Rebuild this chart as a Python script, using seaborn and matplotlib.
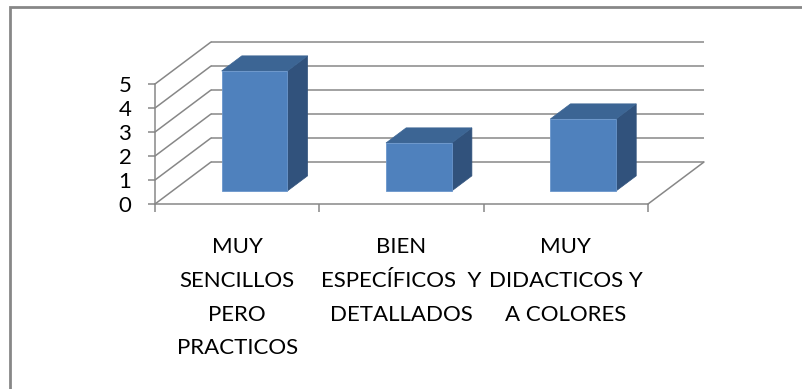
import matplotlib
matplotlib.use("Agg")
import matplotlib.pyplot as plt
import pandas as pd
import seaborn as sns
from matplotlib.patches import Polygon, Rectangle
from matplotlib.ticker import FixedLocator

# Data
categories = [
    "MUY\nSENCILLOS\nPERO\nPRACTICOS",
    "BIEN\nESPECÍFICOS  Y\nDETALLADOS",
    "MUY\nDIDACTICOS Y\nA COLORES",
]
values = [5, 2, 3]
y_ticks = [0, 1, 2, 3, 4, 5]

# Colours
FRONT = "#4F81BD"
SIDE = "#31527C"
TOP = "#3C6594"
EDGE = "#6A96CC"
GRID = "#878787"

sns.set_theme(style="white")
plt.rcParams["font.family"] = ["Lato", "DejaVu Sans"]

W, H = 803, 389
fig = plt.figure(figsize=(W / 100, H / 100), dpi=100)
fig.patch.set_facecolor("white")

# Front plane of the 3-D box (floor front edge / value axis)
ax = fig.add_axes([155 / W, (H - 204) / H, 493 / W, 120 / H])
ax.set_facecolor("none")

df = pd.DataFrame({"cat": categories, "val": values})
sns.barplot(data=df, x="cat", y="val", color=FRONT, saturation=1,
            width=0.4, ax=ax, zorder=3)

n = len(categories)
ax.set_xlim(-0.5, n - 0.5)
ax.set_ylim(0, max(y_ticks))

# Oblique depth vector of the box (in data units) and bar depth slots
DX = 56 / (493 / n)
DY = 42 / (120 / max(y_ticks))
f0, f1 = 0.31, 0.67

lw = 1.1
# Back wall and side wall gridlines
for v in y_ticks:
    ax.plot([-0.5 + DX, n - 0.5 + DX], [v + DY, v + DY], color=GRID, lw=lw,
            clip_on=False, zorder=1, solid_capstyle="butt")
    ax.plot([-0.5, -0.5 + DX], [v, v + DY], color=GRID, lw=lw,
            clip_on=False, zorder=1)
# Floor right edge
ax.plot([n - 0.5, n - 0.5 + DX], [0, DY], color=GRID, lw=lw,
        clip_on=False, zorder=1)

# Turn the flat bars into oblique 3-D columns
for p in list(ax.patches):
    x0, w, h = p.get_x(), p.get_width(), p.get_height()
    x1 = x0 + w
    p.set_xy((x0 + f0 * DX, f0 * DY))
    p.set_edgecolor(EDGE)
    p.set_linewidth(0.6)
    p.set_clip_on(False)
    side = Polygon([(x1 + f0 * DX, f0 * DY), (x1 + f1 * DX, f1 * DY),
                    (x1 + f1 * DX, h + f1 * DY), (x1 + f0 * DX, h + f0 * DY)],
                   closed=True, facecolor=SIDE, edgecolor=SIDE, lw=0.5,
                   zorder=2.9, clip_on=False)
    top = Polygon([(x0 + f0 * DX, h + f0 * DY), (x1 + f0 * DX, h + f0 * DY),
                   (x1 + f1 * DX, h + f1 * DY), (x0 + f1 * DX, h + f1 * DY)],
                  closed=True, facecolor=TOP, edgecolor=TOP, lw=0.5,
                  zorder=2.9, clip_on=False)
    ax.add_patch(side)
    ax.add_patch(top)

# Axes styling
for s in ("top", "right"):
    ax.spines[s].set_visible(False)
for s in ("left", "bottom"):
    ax.spines[s].set_color(GRID)
    ax.spines[s].set_linewidth(lw)

ax.set_yticks(y_ticks)
ax.set_yticklabels([str(t) for t in y_ticks])
ax.tick_params(axis="y", direction="out", length=5, width=lw, color=GRID,
               pad=12, labelsize=16, labelcolor="black", left=True)

ax.xaxis.set_major_locator(FixedLocator([i - 0.5 for i in range(n + 1)]))
ax.xaxis.set_minor_locator(FixedLocator(list(range(n))))
ax.tick_params(axis="x", which="major", direction="out", length=6, width=lw,
               color=GRID, labelbottom=False, bottom=True)
ax.tick_params(axis="x", which="minor", length=0, pad=24, labelsize=16,
               labelcolor="black")
ax.set_xticklabels(categories, minor=True, linespacing=1.85)
ax.set_xlabel("")
ax.set_ylabel("")
ax.grid(False)

# Chart area border
fig.patches.append(Rectangle((10 / W, -0.2), 1.5, (H - 7) / H + 0.2,
                             transform=fig.transFigure, fill=False,
                             edgecolor=GRID, lw=2))

fig.savefig("out.png", dpi=100)
